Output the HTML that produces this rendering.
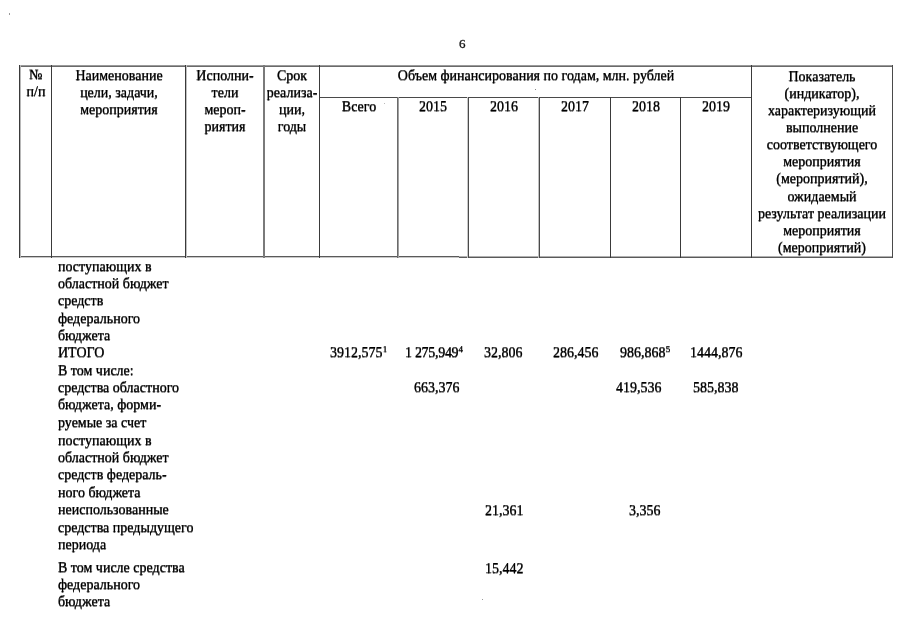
<!DOCTYPE html>
<html><head><meta charset="utf-8"><style>
html,body{margin:0;padding:0;background:#fff;width:905px;height:640px;overflow:hidden;position:relative}
.t{position:absolute;font-family:"Liberation Serif",serif;font-size:14px;line-height:17px;color:#000;white-space:nowrap;will-change:transform;-webkit-text-stroke:0.2px #000;text-shadow:0 0.6px 0.4px rgba(0,0,0,.6)}
.c{width:300px;text-align:center}
.r{width:300px;text-align:right}
.l{position:absolute}
.s{font-size:9px;vertical-align:top;line-height:9px;position:relative;top:0.6px;margin-left:0.3px}
.pn{position:absolute;font-family:"Liberation Serif",serif;font-size:13px;line-height:14px;color:#111;-webkit-text-stroke:0.3px #111;will-change:transform}
</style></head><body>
<div class="l" style="left:19px;top:65px;width:874px;height:1px;background:#9a9a9a"></div>
<div class="l" style="left:19px;top:66px;width:874px;height:1px;background:#6a6a6a"></div>
<div class="l" style="left:319px;top:97px;width:433px;height:1px;background:#4a4a4a"></div>
<div class="l" style="left:19px;top:256px;width:440px;height:1px;background:#5a5a5a"></div>
<div class="l" style="left:19px;top:257px;width:440px;height:1px;background:#c8c8c8"></div>
<div class="l" style="left:459px;top:256px;width:434px;height:1px;background:#b0b0b0"></div>
<div class="l" style="left:459px;top:257px;width:434px;height:1px;background:#5a5a5a"></div>
<div class="l" style="left:19px;top:65px;width:1px;height:193px;background:#3a3a3a"></div>
<div class="l" style="left:20px;top:65px;width:1px;height:193px;background:#b8b8b8"></div>
<div class="l" style="left:51px;top:65px;width:1px;height:193px;background:#3a3a3a"></div>
<div class="l" style="left:185px;top:65px;width:1px;height:193px;background:#3a3a3a"></div>
<div class="l" style="left:186px;top:65px;width:1px;height:193px;background:#c0c0c0"></div>
<div class="l" style="left:263px;top:65px;width:1px;height:193px;background:#7a7a7a"></div>
<div class="l" style="left:264px;top:65px;width:1px;height:193px;background:#7a7a7a"></div>
<div class="l" style="left:319px;top:65px;width:1px;height:193px;background:#3a3a3a"></div>
<div class="l" style="left:751px;top:65px;width:1px;height:193px;background:#3a3a3a"></div>
<div class="l" style="left:892px;top:65px;width:1px;height:193px;background:#4a4a4a"></div>
<div class="l" style="left:397px;top:97px;width:1px;height:161px;background:#6a6a6a"></div>
<div class="l" style="left:398px;top:97px;width:1px;height:161px;background:#a0a0a0"></div>
<div class="l" style="left:467px;top:97px;width:1px;height:161px;background:#c8c8c8"></div>
<div class="l" style="left:468px;top:97px;width:1px;height:161px;background:#4a4a4a"></div>
<div class="l" style="left:538px;top:97px;width:1px;height:161px;background:#c0c0c0"></div>
<div class="l" style="left:539px;top:97px;width:1px;height:161px;background:#4a4a4a"></div>
<div class="l" style="left:610px;top:97px;width:1px;height:161px;background:#3a3a3a"></div>
<div class="l" style="left:680px;top:97px;width:1px;height:161px;background:#3a3a3a"></div>
<div class="l" style="left:9px;top:13px;width:1px;height:2px;background:#999"></div>
<div class="l" style="left:384px;top:103px;width:1px;height:1px;background:#bbb"></div>
<div class="l" style="left:535px;top:89px;width:1px;height:1px;background:#888"></div>
<div class="l" style="left:482px;top:599px;width:1px;height:1px;background:#999"></div>
<div class="pn" style="left:459px;top:37px">6</div>
<div class="t c" style="left:-114.5px;top:65.5px;">№</div>
<div class="t c" style="left:-114.5px;top:82.7px;">п/п</div>
<div class="t c" style="left:-31.5px;top:66.5px;">Наименование</div>
<div class="t c" style="left:-31.5px;top:83.7px;">цели, задачи,</div>
<div class="t c" style="left:-31.5px;top:100.8px;">мероприятия</div>
<div class="t c" style="left:75.0px;top:66.5px;">Исполни-</div>
<div class="t c" style="left:75.0px;top:83.7px;">тели</div>
<div class="t c" style="left:75.0px;top:100.8px;">мероп-</div>
<div class="t c" style="left:75.0px;top:118px;">риятия</div>
<div class="t c" style="left:142.0px;top:66.5px;">Срок</div>
<div class="t c" style="left:142.0px;top:83.7px;">реализа-</div>
<div class="t c" style="left:142.0px;top:100.8px;">ции,</div>
<div class="t c" style="left:142.0px;top:118px;">годы</div>
<div class="t c" style="left:385.5px;top:66.5px;">Объем финансирования по годам, млн. рублей</div>
<div class="t c" style="left:208.5px;top:97.9px;">Всего</div>
<div class="t c" style="left:283.0px;top:97.9px;">2015</div>
<div class="t c" style="left:354.0px;top:97.9px;">2016</div>
<div class="t c" style="left:425.0px;top:97.9px;">2017</div>
<div class="t c" style="left:495.5px;top:97.9px;">2018</div>
<div class="t c" style="left:566.0px;top:97.9px;">2019</div>
<div class="t c" style="left:672.0px;top:67.6px;">Показатель</div>
<div class="t c" style="left:672.0px;top:84.74px;">(индикатор),</div>
<div class="t c" style="left:672.0px;top:101.88px;">характеризующий</div>
<div class="t c" style="left:672.0px;top:119.01999999999998px;">выполнение</div>
<div class="t c" style="left:672.0px;top:136.16px;">соответствующего</div>
<div class="t c" style="left:672.0px;top:153.3px;">мероприятия</div>
<div class="t c" style="left:672.0px;top:170.44px;">(мероприятий),</div>
<div class="t c" style="left:672.0px;top:187.57999999999998px;">ожидаемый</div>
<div class="t c" style="left:672.0px;top:204.72px;">результат реализации</div>
<div class="t c" style="left:672.0px;top:221.85999999999999px;">мероприятия</div>
<div class="t c" style="left:672.0px;top:239.0px;">(мероприятий)</div>
<div class="t" style="left:57.5px;top:258px;">поступающих в</div>
<div class="t" style="left:57.5px;top:275.3px;">областной бюджет</div>
<div class="t" style="left:57.5px;top:292.2px;">средств</div>
<div class="t" style="left:57.5px;top:309.6px;">федерального</div>
<div class="t" style="left:57.5px;top:326.8px;">бюджета</div>
<div class="t" style="left:57.5px;top:344.2px;">ИТОГО</div>
<div class="t" style="left:57.5px;top:361.6px;">В том числе:</div>
<div class="t" style="left:57.5px;top:378.9px;">средства областного</div>
<div class="t" style="left:57.5px;top:396.3px;">бюджета, форми-</div>
<div class="t" style="left:57.5px;top:413.7px;">руемые за счет</div>
<div class="t" style="left:57.5px;top:431.6px;">поступающих в</div>
<div class="t" style="left:57.5px;top:449px;">областной бюджет</div>
<div class="t" style="left:57.5px;top:466.3px;">средств федераль-</div>
<div class="t" style="left:57.5px;top:483.8px;">ного бюджета</div>
<div class="t" style="left:57.5px;top:501.4px;">неиспользованные</div>
<div class="t" style="left:57.5px;top:518.6px;">средства предыдущего</div>
<div class="t" style="left:57.5px;top:535.6px;">периода</div>
<div class="t" style="left:57.5px;top:558.8px;">В том числе средства</div>
<div class="t" style="left:57.5px;top:575.6px;">федерального</div>
<div class="t" style="left:57.5px;top:592.6px;">бюджета</div>
<div class="t" style="left:330px;top:344.4px;">3912,575<span class="s">1</span></div>
<div class="t" style="left:404.5px;top:344.4px;"><span style="letter-spacing:-0.3px">1&nbsp;275,949</span><span class="s">4</span></div>
<div class="t" style="left:484px;top:344.4px;">32,806</div>
<div class="t" style="left:553px;top:344.4px;">286,456</div>
<div class="t" style="left:620px;top:344.4px;">986,868<span class="s">5</span></div>
<div class="t" style="left:690px;top:344.4px;">1444,876</div>
<div class="t" style="left:414px;top:379.4px;">663,376</div>
<div class="t" style="left:616px;top:379.4px;">419,536</div>
<div class="t" style="left:693px;top:379.4px;">585,838</div>
<div class="t" style="left:484.5px;top:502.20000000000005px;">21,361</div>
<div class="t" style="left:629px;top:502.20000000000005px;">3,356</div>
<div class="t" style="left:485px;top:559.7px;">15,442</div>
</body></html>
